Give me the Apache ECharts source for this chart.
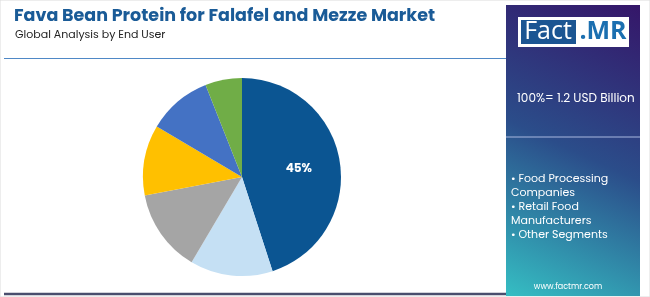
<!DOCTYPE html>
<html><head><meta charset="utf-8">
<script src="https://cdn.jsdelivr.net/npm/echarts@6/dist/echarts.min.js"></script>
<style>html,body{margin:0;padding:0;background:#fff}#c{width:650px;height:297px}</style>
</head><body><div id="c"></div>
<script>
const categories = ["Food Processing Companies", "Retail Food Manufacturers", "Other Segments", "Segment D", "Segment E", "Segment F"];
const values = [45, 13.5, 13.5, 11.5, 10.5, 6];
const colors = ["#0b5592", "#c5e0f4", "#a5a5a5", "#ffc000", "#4472c4", "#70ad47"];
const legendLines = ["• Food Processing", "Companies", "• Retail Food", "Manufacturers", "• Other Segments"];
const totalText = "100%= 1.2 USD Billion";

const chart = echarts.init(document.getElementById('c'), null, {renderer: 'canvas'});
const font = "Poppins, 'Open Sans', 'Noto Sans', sans-serif";
const graphics = [
  {type:'rect', shape:{x:0,y:0,width:650,height:297}, style:{fill:'none', stroke:'#dcdcdc', lineWidth:1}, silent:true, z:0},
  {type:'line', shape:{x1:4,y1:58.5,x2:506,y2:58.5}, style:{stroke:'#4f88c6', lineWidth:1}},
  {type:'line', shape:{x1:4,y1:294,x2:506,y2:294}, style:{stroke:'#4a4e6e', lineWidth:2.5}},
  {type:'rect', shape:{x:506,y:5,width:134,height:291},
   style:{fill:new echarts.graphic.LinearGradient(1,0,0,1,[{offset:0,color:'#351669'},{offset:0.5,color:'#2b4d8a'},{offset:1,color:'#35bec3'}])}},
  {type:'rect', shape:{x:518,y:17,width:111,height:30}, style:{fill:'#ffffff'}},
  {type:'rect', shape:{x:521,y:20,width:55,height:24}, style:{fill:'#1b5592'}},
  {type:'text', style:{x:548,y:32,text:'Fact', fill:'#ffffff', font:"25px 'Open Sans', sans-serif", textAlign:'center', textVerticalAlign:'middle'}},
  {type:'text', style:{x:603,y:32,text:'.MR', fill:'#1b6fb0', font:"bold 25px 'Open Sans', sans-serif", textAlign:'center', textVerticalAlign:'middle'}},
  {type:'text', style:{x:517,y:99,text:totalText, fill:'#ffffff', font:"12px "+font, textVerticalAlign:'middle'}},
  {type:'line', shape:{x1:506,y1:137,x2:640,y2:137}, style:{stroke:'#a9b8df', lineWidth:1}},
  {type:'text', style:{x:568,y:287,text:'www.factmr.com', fill:'#ffffff', font:"8px "+font, textAlign:'center', textVerticalAlign:'middle'}}
];
legendLines.forEach((t,i)=>{
  graphics.push({type:'text', style:{x:511, y:179+i*14, text:t, fill:'#ffffff', font:"11px "+font, textVerticalAlign:'middle'}});
});

chart.setOption({
  animation:false,
  title:[
    {text:'Fava Bean Protein for Falafel and Mezze Market', left:9, top:3,
     textStyle:{color:'#1a5b97', fontSize:17.5, fontWeight:'bold', fontFamily:font}},
    {text:'Global Analysis by End User', left:10, top:25,
     textStyle:{color:'#222222', fontSize:11, fontWeight:'normal', fontFamily:font}}
  ],
  graphic: graphics,
  series:[{
    type:'pie', center:[242,177], radius:[0,99], startAngle:90, clockwise:true,
    data: categories.map((c,i)=>({name:c, value:values[i], itemStyle:{color:colors[i]},
      label: i===0 ? {show:true, position:'inside', formatter:'{d}%', color:'#fff', fontWeight:'bold', fontSize:12, fontFamily:font, offset:[5,0]} : {show:false}})),
    label:{show:false}, labelLine:{show:false},
    itemStyle:{borderWidth:0}
  }]
});
</script></body></html>
